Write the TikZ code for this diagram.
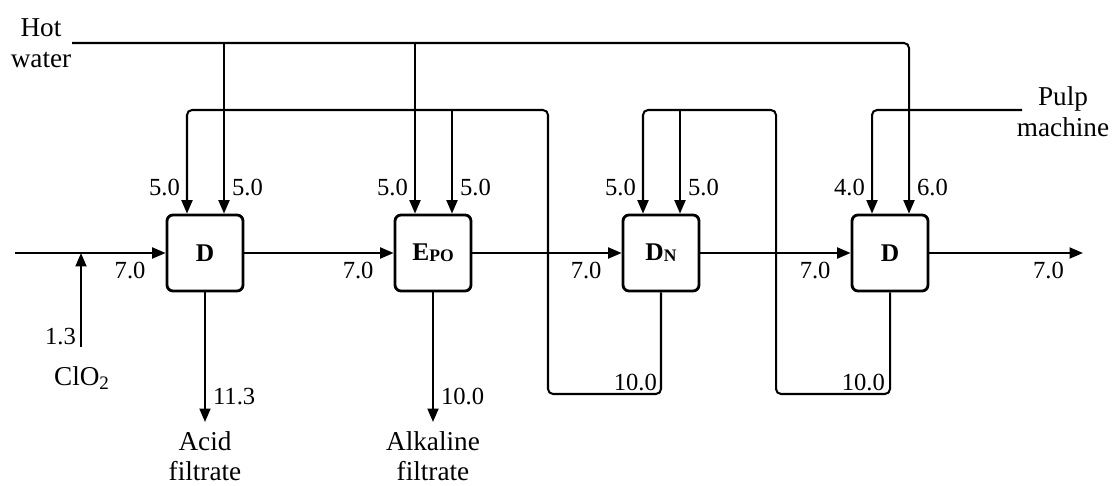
\documentclass[tikz,border=0pt]{standalone}
\usepackage{fontspec}
\setmainfont{Liberation Serif}
\usetikzlibrary{arrows.meta,calc}

\newcommand{\stagesub}[1]{\raisebox{-0.6pt}{\fontsize{10}{12}\selectfont #1}}

\begin{document}
\begin{tikzpicture}[x=0.02cm, y=-0.02cm,
    every node/.style={font=\fontsize{15.5}{17.5}\selectfont},
    stage/.style={draw, line width=1.6pt, rounded corners=0.12cm, minimum width=1.52cm,
        minimum height=1.52cm, inner sep=0pt, font=\fontsize{14.5}{17}\selectfont\bfseries},
    pipe/.style={line width=1.15pt, rounded corners=0.1cm},
    flow/.style={pipe, -{Triangle[length=0.27cm, width=0.22cm]}},
    val/.style={inner sep=1pt, font=\fontsize{14}{16}\selectfont},
    txt/.style={align=center, inner sep=1pt}]
    \useasboundingbox (0,0) rectangle (1112,486);

    % Bleaching stages
    \node[stage] (d1) at (205,253) {D};
    \node[stage] (epo) at (433,253) {E\stagesub{PO}};
    \node[stage] (dn) at (661,253) {D\stagesub{N}};
    \node[stage] (d4) at (890,253) {D};

    % Two inlets on top of each stage
    \foreach \s in {d1,epo,dn,d4} {
        \coordinate (\s-l) at ($(\s.north)+(-18,0)$);
        \coordinate (\s-r) at ($(\s.north)+(19,0)$);
    }

    % Pulp line
    \coordinate (feed) at (15,253);
    \coordinate (out) at (1083,253);
    \draw[flow] (feed) -- (d1);
    \draw[flow] (d1) -- (epo);
    \draw[flow] (epo) -- (dn);
    \draw[flow] (dn) -- (d4);
    \draw[flow] (d4) -- (out);
    \node[val, anchor=north east] (f1) at ($(d1.west)+(-18,7)$) {7.0};
    \node[val, anchor=north east] (f2) at ($(epo.west)+(-18,7)$) {7.0};
    \node[val, anchor=north east] (f3) at ($(dn.west)+(-18,7)$) {7.0};
    \node[val, anchor=north east] (f4) at ($(d4.west)+(-18,7)$) {7.0};
    \node[val, anchor=north east] (f5) at ($(out)+(-17,7)$) {7.0};

    % ClO2 dosage
    \node (clo) at (82,378) {ClO\textsubscript{2}};
    \coordinate (cl) at (81,347);
    \draw[flow] (cl) -- (feed -| cl);
    \node[val, anchor=south east] (c1) at (78,347) {1.3};

    % Hot water
    \node[txt] (hot) at (41,43) {Hot\\water};
    \coordinate (hw) at (72,43);
    \draw[flow] (hw) -| (d4-r);
    \draw[flow] (d1-r |- hw) -- (d1-r);
    \draw[flow] (epo-l |- hw) -- (epo-l);

    % Filtrate recycled from DN
    \coordinate (r1) at (548,110);
    \draw[flow] (dn.south) -- (dn.south |- 0,394) -| (r1) -| (d1-l);
    \draw[flow] (epo-r |- r1) -- (epo-r);
    \node[val, anchor=south east] (b3) at (659,393) {10.0};

    % Filtrate recycled from last D
    \coordinate (r2) at (776,110);
    \draw[flow] (d4.south) -- (d4.south |- 0,394) -| (r2) -| (dn-l);
    \draw[flow] (dn-r |- r2) -- (dn-r);
    \node[val, anchor=south east] (b4) at (887,393) {10.0};

    % Pulp machine water
    \node[txt] (pulp) at (1063,112) {Pulp\\machine};
    \coordinate (pm) at (1022,110);
    \draw[flow] (pm) -| (d4-l);

    % Flows into the inlets
    \node[val, anchor=south east] (q1) at ($(d1-l)+(-5,-16)$) {5.0};
    \node[val, anchor=south west] (q2) at ($(d1-r)+(6,-16)$) {5.0};
    \node[val, anchor=south east] (q3) at ($(epo-l)+(-5,-16)$) {5.0};
    \node[val, anchor=south west] (q4) at ($(epo-r)+(6,-16)$) {5.0};
    \node[val, anchor=south east] (q5) at ($(dn-l)+(-5,-16)$) {5.0};
    \node[val, anchor=south west] (q6) at ($(dn-r)+(6,-16)$) {5.0};
    \node[val, anchor=south east] (q7) at ($(d4-l)+(-5,-16)$) {4.0};
    \node[val, anchor=south west] (q8) at ($(d4-r)+(6,-16)$) {6.0};

    % Filtrates leaving the plant
    \node[txt, anchor=north, inner sep=0.18cm] (acid) at (205,422) {Acid\\filtrate};
    \node[txt, anchor=north, inner sep=0.18cm] (alk) at (433,422) {Alkaline\\filtrate};
    \draw[flow] (d1) -- (acid);
    \draw[flow] (epo) -- (alk);
    \node[val, anchor=south west] (b1) at (211,407) {11.3};
    \node[val, anchor=south west] (b2) at (439,407) {10.0};
\end{tikzpicture}
\end{document}
